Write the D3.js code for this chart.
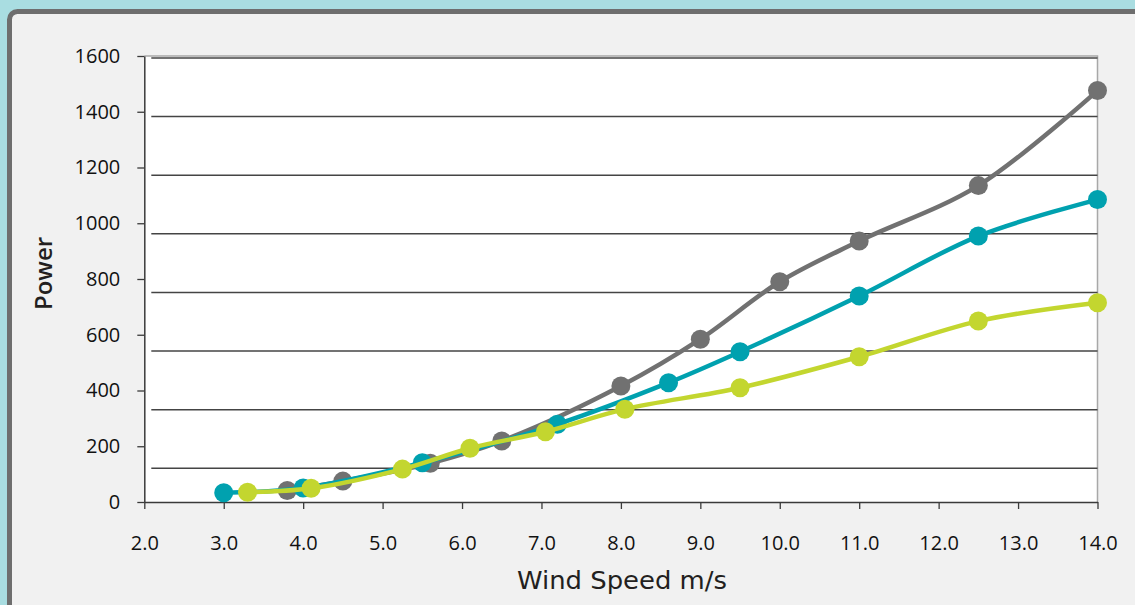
<!DOCTYPE html>
<html>
<head>
<meta charset="utf-8">
<script src="https://cdn.jsdelivr.net/npm/d3@7"></script>
<style>
  html, body { margin: 0; padding: 0; background: #a9dde1; }
  svg { display: block; }
</style>
</head>
<body>
<svg id="chart" width="1135" height="605"></svg>
<script>
// ---- data ----
const xTicks = [2, 3, 4, 5, 6, 7, 8, 9, 10, 11, 12, 13, 14];
const yTicks = [0, 200, 400, 600, 800, 1000, 1200, 1400, 1600];
const gridValues = [121, 331, 542, 752, 962, 1172, 1383, 1593];

const grayX = [3.8, 4.5, 5.6, 6.5, 8.0, 9.0, 10.0, 11.0, 12.5, 14.0];
const grayY = [41, 75, 139, 219, 416, 584, 790, 936, 1135, 1476];

const tealX = [3.0, 4.0, 5.5, 7.2, 8.6, 9.5, 11.0, 12.5, 14.0];
const tealY = [33, 50, 141, 279, 428, 539, 739, 954, 1085];

const limeX = [3.3, 4.1, 5.25, 6.1, 7.05, 8.05, 9.5, 11.0, 12.5, 14.0];
const limeY = [35, 49, 118, 193, 252, 333, 410, 521, 649, 715];

const series = [
  { name: "gray", xs: grayX, ys: grayY, color: "#717171" },
  { name: "teal", xs: tealX, ys: tealY, color: "#00a1af" },
  { name: "lime", xs: limeX, ys: limeY, color: "#c3d62f" }
];

// ---- layout ----
const svg = d3.select("#chart");
const pLeft = 144.3, pRight = 1097.5, pTop = 56, pBottom = 502;

const x = d3.scaleLinear().domain([2, 14]).range([pLeft, pRight]);
const y = d3.scaleLinear().domain([0, 1600]).range([pBottom, pTop]);

// panel
svg.append("rect")
  .attr("x", 9.5).attr("y", 11.5)
  .attr("width", 1200).attr("height", 700)
  .attr("rx", 8).attr("ry", 8)
  .attr("fill", "#f1f1f1")
  .attr("stroke", "#6e6e6e")
  .attr("stroke-width", 5);

// plot area
svg.append("rect")
  .attr("x", pLeft).attr("y", pTop)
  .attr("width", pRight - pLeft).attr("height", pBottom - pTop)
  .attr("fill", "#ffffff");

// top / right border
svg.append("path")
  .attr("d", `M${pLeft},${pTop}H${pRight}V${pBottom}`)
  .attr("fill", "none")
  .attr("stroke", "#a8a8a8")
  .attr("stroke-width", 1.5);

// gridlines
svg.append("g").selectAll("line").data(gridValues).join("line")
  .attr("x1", pLeft + 7).attr("x2", pRight)
  .attr("y1", d => y(d)).attr("y2", d => y(d))
  .attr("stroke", "#444")
  .attr("stroke-width", 1.5);

// axes
const fontTick = "'Open Sans', 'Noto Sans', sans-serif";
const yAxis = svg.append("g")
  .attr("transform", `translate(${pLeft},0)`)
  .call(d3.axisLeft(y).tickValues(yTicks).tickSize(7).tickSizeOuter(0).tickPadding(17).tickFormat(d3.format("d")));
const xAxis = svg.append("g")
  .attr("transform", `translate(0,${pBottom})`)
  .call(d3.axisBottom(x).tickValues(xTicks).tickSize(7).tickSizeOuter(0).tickPadding(27).tickFormat(d3.format(".1f")));

[yAxis, xAxis].forEach(g => {
  g.select(".domain").attr("stroke", "#3a3a3a").attr("stroke-width", 1.5);
  g.selectAll(".tick line").attr("stroke", "#3a3a3a").attr("stroke-width", 1.3);
  g.selectAll(".tick text")
    .attr("fill", "#111")
    .style("font-family", fontTick)
    .style("font-size", "20px");
});

// lines and markers
const line = d3.line()
  .x(d => x(d[0]))
  .y(d => y(d[1]))
  .curve(d3.curveCatmullRom.alpha(0.5));

series.forEach(s => {
  const pts = s.xs.map((v, i) => [v, s.ys[i]]);
  const g = svg.append("g");
  g.append("path")
    .datum(pts)
    .attr("d", line)
    .attr("fill", "none")
    .attr("stroke", s.color)
    .attr("stroke-width", 4.5)
    .attr("stroke-linejoin", "round");
  g.selectAll("circle").data(pts).join("circle")
    .attr("cx", d => x(d[0]))
    .attr("cy", d => y(d[1]))
    .attr("r", 9.5)
    .attr("fill", s.color);
});

// axis titles
svg.append("text")
  .attr("transform", "translate(52.3,273.5) rotate(-90)")
  .attr("text-anchor", "middle")
  .attr("fill", "#231f20")
  .style("font-family", "'Open Sans', sans-serif")
  .style("font-weight", "600")
  .style("font-size", "24px")
  .text("Power");

svg.append("text")
  .attr("x", 622).attr("y", 589)
  .attr("text-anchor", "middle")
  .attr("fill", "#231f20")
  .attr("textLength", 210)
  .attr("lengthAdjust", "spacingAndGlyphs")
  .style("font-family", "'DejaVu Sans', sans-serif")
  .style("font-size", "24px")
  .text("Wind Speed m/s");
</script>
</body>
</html>
